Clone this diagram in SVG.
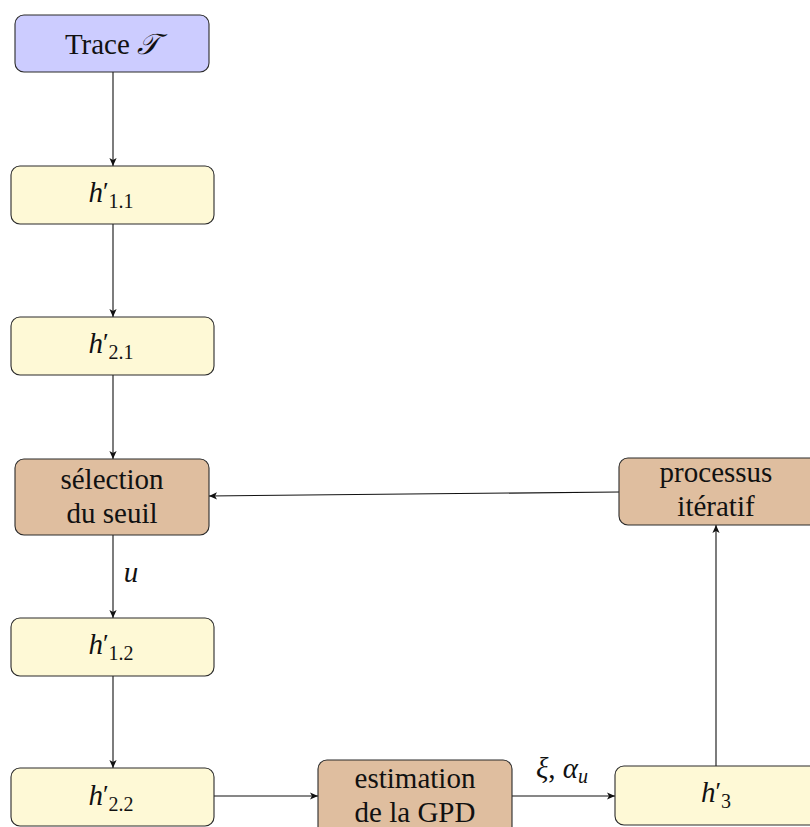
<svg xmlns="http://www.w3.org/2000/svg" width="810" height="827" viewBox="0 0 810 827">
  <style>
    .box { stroke: #2a2a2a; stroke-width: 1.1; }
    .start { fill: #ccccff; }
    .step { fill: #fef9d6; }
    .proc { fill: #dfbe9f; }
    .lbl { font-family: "Liberation Serif", "Times New Roman", serif; font-size: 29px; fill: #111; text-anchor: middle; }
    .sub { font-size: 20px; }
    .pr { font-size: 26px; }
    .edge { stroke: #111; stroke-width: 1.1; fill: none; marker-end: url(#tip); }
  </style>
  <defs>
    <marker id="tip" viewBox="0 0 10 10" refX="10" refY="5" markerWidth="8" markerHeight="8" markerUnits="userSpaceOnUse" orient="auto">
      <path d="M0,0.5 L10,5 L0,9.5 L2.5,5 Z" fill="#111"/>
    </marker>
  </defs>

  <g id="connectors">
    <line class="edge" x1="113" y1="72" x2="113" y2="166"/>
    <line class="edge" x1="113" y1="224" x2="113" y2="317"/>
    <line class="edge" x1="113" y1="375" x2="113" y2="459"/>
    <line class="edge" x1="113" y1="535" x2="113" y2="618"/>
    <line class="edge" x1="113" y1="676" x2="113" y2="768"/>
    <line class="edge" x1="214" y1="796" x2="318" y2="796"/>
    <line class="edge" x1="512" y1="796" x2="615" y2="796"/>
    <line class="edge" x1="716" y1="766" x2="716" y2="525"/>
    <line class="edge" x1="619" y1="492" x2="209" y2="496"/>
    <text class="lbl" x="131" y="582" font-style="italic">u</text>
    <text class="lbl" x="562" y="778"><tspan font-style="italic">ξ</tspan>, <tspan font-style="italic">α</tspan><tspan class="sub" font-style="italic" dy="5">u</tspan></text>
  </g>

  <g id="trace">
    <rect class="box start" x="15" y="15" width="194" height="57" rx="9"/>
    <text class="lbl" x="112" y="54">Trace <tspan font-style="italic">𝒯</tspan></text>
  </g>

  <g id="h11">
    <rect class="box step" x="11" y="166" width="203" height="58" rx="9"/>
    <text class="lbl" x="111" y="202"><tspan font-style="italic">h</tspan><tspan class="pr" dy="-2">′</tspan><tspan class="sub" dy="8">1.1</tspan></text>
  </g>

  <g id="h21">
    <rect class="box step" x="11" y="317" width="203" height="58" rx="9"/>
    <text class="lbl" x="111" y="353"><tspan font-style="italic">h</tspan><tspan class="pr" dy="-2">′</tspan><tspan class="sub" dy="8">2.1</tspan></text>
  </g>

  <g id="selection">
    <rect class="box proc" x="15" y="459" width="194" height="76" rx="9"/>
    <text class="lbl" x="112" y="489">sélection</text>
    <text class="lbl" x="112" y="523">du seuil</text>
  </g>

  <g id="h12">
    <rect class="box step" x="11" y="618" width="203" height="58" rx="9"/>
    <text class="lbl" x="111" y="654"><tspan font-style="italic">h</tspan><tspan class="pr" dy="-2">′</tspan><tspan class="sub" dy="8">1.2</tspan></text>
  </g>

  <g id="h22">
    <rect class="box step" x="11" y="768" width="203" height="58" rx="9"/>
    <text class="lbl" x="111" y="805"><tspan font-style="italic">h</tspan><tspan class="pr" dy="-2">′</tspan><tspan class="sub" dy="8">2.2</tspan></text>
  </g>

  <g id="estimation">
    <rect class="box proc" x="318" y="760" width="194" height="80" rx="9"/>
    <text class="lbl" x="415" y="788">estimation</text>
    <text class="lbl" x="415" y="822">de la GPD</text>
  </g>

  <g id="h3">
    <rect class="box step" x="615" y="766" width="203" height="59" rx="9"/>
    <text class="lbl" x="716" y="802"><tspan font-style="italic">h</tspan><tspan class="pr" dy="-2">′</tspan><tspan class="sub" dy="8">3</tspan></text>
  </g>

  <g id="processus">
    <rect class="box proc" x="619" y="458" width="199" height="67" rx="9"/>
    <text class="lbl" x="716" y="482">processus</text>
    <text class="lbl" x="716" y="516">itératif</text>
  </g>
</svg>
